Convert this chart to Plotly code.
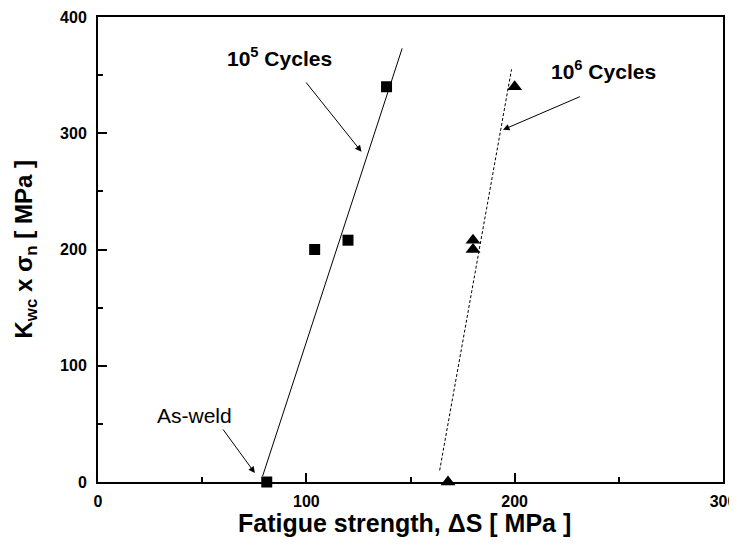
import plotly.graph_objects as go

# Data
sq_x = [81, 104, 120, 138.5]
sq_y = [0, 200, 208, 340]
tri_x = [168, 180, 180, 200]
tri_y = [0, 200, 208, 340]
fit5_x = [79, 146]
fit5_y = [5, 373]
fit6_x = [164, 198.5]
fit6_y = [10, 355]

x_ticks = [0, 100, 200, 300]
y_ticks = [0, 100, 200, 300, 400]

FONT = "Arial, Liberation Sans, sans-serif"

fig = go.Figure()
fig.add_trace(go.Scatter(x=fit5_x, y=fit5_y, mode="lines",
                         line=dict(color="black", width=1), showlegend=False))
fig.add_trace(go.Scatter(x=fit6_x, y=fit6_y, mode="lines",
                         line=dict(color="black", width=1, dash="3px,2px"), showlegend=False))
fig.add_trace(go.Scatter(x=sq_x, y=sq_y, mode="markers",
                         marker=dict(symbol="square", size=11, color="black"),
                         showlegend=False, cliponaxis=False))
fig.add_trace(go.Scatter(x=tri_x, y=tri_y, mode="markers",
                         marker=dict(symbol="triangle-up", size=13, color="black"),
                         showlegend=False, cliponaxis=False))

# Arrows
arrows = [
    (126.5, 284, 99.3, 345),
    (194.4, 303, 232, 332),
    (75.3, 7.7, 59.5, 46.5),
]
for hx, hy, tx, ty in arrows:
    fig.add_annotation(x=hx, y=hy, ax=tx, ay=ty, xref="x", yref="y",
                       axref="x", ayref="y", text="", showarrow=True,
                       arrowhead=2, arrowsize=1.3, arrowwidth=1, arrowcolor="black")

fig.add_annotation(x=87, y=365.6, xref="x", yref="y", showarrow=False,
                   text="<b>10<sup>5</sup> Cycles</b>",
                   font=dict(family=FONT, size=21, color="black"))
fig.add_annotation(x=242.7, y=354.4, xref="x", yref="y", showarrow=False,
                   text="<b>10<sup>6</sup> Cycles</b>",
                   font=dict(family=FONT, size=21, color="black"))
fig.add_annotation(x=46.5, y=57.6, xref="x", yref="y", showarrow=False,
                   text="As-weld",
                   font=dict(family=FONT, size=21, color="black"))

# Axis titles as paper annotations
fig.add_annotation(x=0.5, y=0, xref="paper", yref="paper", yshift=-41, xshift=-6,
                   xanchor="center", yanchor="middle", showarrow=False,
                   text="<b>Fatigue strength, \u0394S [ MPa ]</b>",
                   font=dict(family=FONT, size=25, color="black"))
fig.add_annotation(x=0, y=0.5, xref="paper", yref="paper", xshift=-73,
                   xanchor="center", yanchor="middle", showarrow=False, textangle=-90,
                   text="<b>K<sub>wc</sub> x \u03c3<sub>n</sub> [ MPa ]</b>",
                   font=dict(family=FONT, size=24, color="black"))

# page body has an 8px default margin; compensate so the plot lands in place
fig.update_layout(
    width=729, height=547,
    margin=dict(l=90, r=14, t=9, b=73),
    paper_bgcolor="white", plot_bgcolor="white",
    font=dict(family=FONT, color="black"),
    xaxis=dict(range=[0, 300], tickvals=x_ticks, ticktext=[str(v) for v in x_ticks],
               automargin=False, ticklabelstandoff=4,
               showgrid=False, zeroline=False, showline=True, linecolor="black",
               linewidth=2, mirror=True, ticks="inside", ticklen=9, tickwidth=2,
               tickcolor="black",
               minor=dict(ticks="inside", ticklen=5, tickwidth=2, dtick=50, tick0=0,
                          tickcolor="black", showgrid=False),
               tickfont=dict(family=FONT, size=16, color="black", weight="bold")),
    yaxis=dict(range=[0, 400], tickvals=y_ticks, ticktext=[str(v) for v in y_ticks],
               automargin=False, ticklabelstandoff=6,
               showgrid=False, zeroline=False, showline=True, linecolor="black",
               linewidth=2, mirror=True, ticks="inside", ticklen=9, tickwidth=2,
               tickcolor="black",
               minor=dict(ticks="inside", ticklen=5, tickwidth=2, dtick=50, tick0=0,
                          tickcolor="black", showgrid=False),
               tickfont=dict(family=FONT, size=16, color="black", weight="bold")),
)

fig.write_html("out.html")
